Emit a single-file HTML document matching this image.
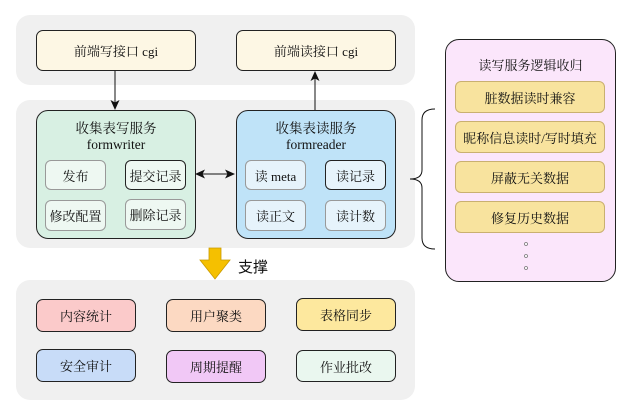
<!DOCTYPE html>
<html><head><meta charset="utf-8"><style>
body{margin:0;width:631px;height:415px;background:#fff;position:relative;overflow:hidden;font-family:"Liberation Serif","Noto Serif CJK SC",serif;color:#111}
.a{position:absolute;box-sizing:border-box}
.panel{background:#f0f0f0;border-radius:14px}
.bx{border:1px solid #222;border-radius:7px;display:flex;align-items:center;justify-content:center;font-size:13px;text-align:center}
.sub{border:1px solid #999;border-radius:6px;display:flex;align-items:center;justify-content:center;font-size:13px}
</style></head><body>
<div class="a panel" style="left:16px;top:15px;width:399px;height:70px"></div>
<div class="a panel" style="left:16px;top:100px;width:399px;height:148px"></div>
<div class="a panel" style="left:16px;top:280px;width:399px;height:120px"></div>

<div class="a bx" style="left:36px;top:30px;width:160px;height:41px;background:#fdf7e4">前端写接口 cgi</div>
<div class="a bx" style="left:236px;top:30px;width:160px;height:41px;background:#fdf7e4">前端读接口 cgi</div>

<div class="a bx" style="left:36px;top:110px;width:160px;height:129px;background:#d8f0e3;border-radius:12px;display:block"></div>
<div class="a" style="left:36px;top:121px;width:160px;text-align:center;font-size:13.5px;line-height:16px">收集表写服务<br>formwriter</div>
<div class="a sub" style="left:45px;top:160px;width:61px;height:30px;background:#eef8f2">发布</div>
<div class="a sub" style="left:125px;top:160px;width:61px;height:30px;background:#eef8f2;border-color:#222">提交记录</div>
<div class="a sub" style="left:45px;top:200px;width:61px;height:31px;background:#eef8f2">修改配置</div>
<div class="a sub" style="left:125px;top:199px;width:61px;height:31px;background:#eef8f2">删除记录</div>

<div class="a bx" style="left:236px;top:110px;width:160px;height:129px;background:#bfe3f8;border-radius:12px;display:block"></div>
<div class="a" style="left:236px;top:121px;width:160px;text-align:center;font-size:13.5px;line-height:16px">收集表读服务<br>formreader</div>
<div class="a sub" style="left:245px;top:160px;width:61px;height:30px;background:#e6f3fb">读 meta</div>
<div class="a sub" style="left:325px;top:160px;width:61px;height:30px;background:#e6f3fb;border-color:#222">读记录</div>
<div class="a sub" style="left:245px;top:200px;width:61px;height:31px;background:#e6f3fb">读正文</div>
<div class="a sub" style="left:325px;top:200px;width:61px;height:31px;background:#e6f3fb">读计数</div>

<div class="a bx" style="left:445px;top:39px;width:171px;height:243px;background:#fbe6fb;border-radius:14px;display:block"></div>
<div class="a" style="left:445px;top:55px;width:171px;text-align:center;font-size:13px">读写服务逻辑收归</div>
<div class="a sub" style="left:455px;top:81px;width:150px;height:32px;background:#f8e39e;border-color:#c9b070">脏数据读时兼容</div>
<div class="a sub" style="left:455px;top:121px;width:150px;height:32px;background:#f8e39e;border-color:#c9b070">昵称信息读时/写时填充</div>
<div class="a sub" style="left:455px;top:161px;width:150px;height:32px;background:#f8e39e;border-color:#c9b070">屏蔽无关数据</div>
<div class="a sub" style="left:455px;top:201px;width:150px;height:32px;background:#f8e39e;border-color:#c9b070">修复历史数据</div>

<div class="a bx" style="left:36px;top:299px;width:100px;height:33px;background:#fbcaca">内容统计</div>
<div class="a bx" style="left:166px;top:299px;width:100px;height:33px;background:#fcd9c2">用户聚类</div>
<div class="a bx" style="left:296px;top:298px;width:100px;height:33px;background:#fde89e">表格同步</div>
<div class="a bx" style="left:36px;top:349px;width:100px;height:33px;background:#c8dcf8">安全审计</div>
<div class="a bx" style="left:166px;top:350px;width:100px;height:33px;background:#f1c8f6">周期提醒</div>
<div class="a bx" style="left:296px;top:350px;width:100px;height:32px;background:#eaf7ef">作业批改</div>
<div class="a" style="left:238px;top:256px;font-size:15px;font-family:'Liberation Sans','Noto Sans CJK SC',sans-serif">支撑</div>

<svg class="a" style="left:0;top:0" width="631" height="415">
<defs><marker id="m" markerWidth="10" markerHeight="10" refX="9" refY="5" orient="auto" markerUnits="userSpaceOnUse"><path d="M0,0.5L10,5L0,9.5L2.5,5z" fill="#111"/></marker></defs>
<line x1="115" y1="71" x2="115" y2="109" stroke="#111" marker-end="url(#m)"/>
<line x1="315" y1="110" x2="315" y2="72" stroke="#111" marker-end="url(#m)"/>
<line x1="206" y1="174" x2="234" y2="174" stroke="#111" marker-end="url(#m)"/>
<line x1="224" y1="174" x2="196" y2="174" stroke="#111" marker-end="url(#m)"/>
<path d="M435,109 Q422,109 422,120 L422,170 Q422,179 410,179 Q422,179 422,188 L422,238 Q422,249 435,249" fill="none" stroke="#111"/>
<g fill="#fff" stroke="#777" stroke-width="0.8"><circle cx="526" cy="244" r="1.5"/><circle cx="526" cy="256" r="1.5"/><circle cx="526" cy="268" r="1.5"/></g>
<path d="M209,248 L221,248 L221,260 L230,260 L215,279 L200,260 L209,260 Z" fill="#f5c000" stroke="#c99a00" stroke-width="0.8"/>
</svg>
</body></html>
